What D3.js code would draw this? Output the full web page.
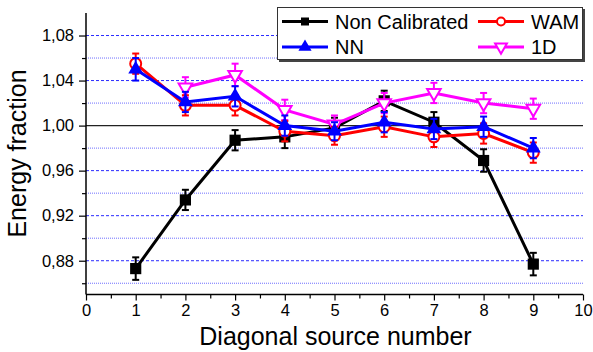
<!DOCTYPE html>
<html>
<head>
<meta charset="utf-8">
<script src="https://cdn.jsdelivr.net/npm/d3@7"></script>
<style>
  html, body { margin: 0; padding: 0; background: #fff; }
  svg { display: block; font-family: "Liberation Sans", Arial, sans-serif; }
</style>
</head>
<body>
<svg id="chart" width="593" height="352"></svg>
<script>
// Diagonal source numbers and energy fraction per calibration method
const sources = [1, 2, 3, 4, 5, 6, 7, 8, 9];
const nonCalibrated = [0.873, 0.934, 0.987, 0.990, 0.998, 1.022, 1.003, 0.969, 0.877];
const nonCalibratedErr = [0.010, 0.009, 0.009, 0.010, 0.009, 0.009, 0.009, 0.010, 0.010];
const wam = [1.055, 1.018, 1.018, 0.995, 0.991, 0.999, 0.990, 0.993, 0.976];
const wamErr = [0.009, 0.009, 0.009, 0.009, 0.008, 0.009, 0.009, 0.009, 0.009];
const nn = [1.050, 1.021, 1.026, 1.000, 0.995, 1.003, 0.997, 0.999, 0.980];
const nnErr = [0.010, 0.009, 0.009, 0.009, 0.008, 0.009, 0.009, 0.009, 0.009];
// 1D calibration has no value for source 1
const oneD = [null, 1.034, 1.045, 1.014, 1.001, 1.020, 1.029, 1.020, 1.015];
const oneDErr = [null, 0.009, 0.010, 0.009, 0.008, 0.009, 0.009, 0.009, 0.009];

const xTicks = [0, 1, 2, 3, 4, 5, 6, 7, 8, 9, 10];
const yTicks = [0.88, 0.92, 0.96, 1.00, 1.04, 1.08];
const yMinor = [0.86, 0.90, 0.94, 0.98, 1.02, 1.06];

const svg = d3.select("#chart");
const plotLeft = 86, plotRight = 583, plotTop = 13, plotBottom = 294.5;

const x = d3.scaleLinear().domain([0, 10]).range([plotLeft, plotRight]);
const y = d3.scaleLinear().domain([0.85, 1.10]).range([plotBottom, plotTop]);
const fmt = v => d3.format(".2f")(v).replace(".", ",");

// Horizontal grid lines
const grid = svg.append("g");
grid.selectAll("line.minor").data(yMinor).join("line")
  .attr("x1", plotLeft).attr("x2", plotRight)
  .attr("y1", d => y(d)).attr("y2", d => y(d))
  .attr("stroke", "#6f6fff").attr("stroke-width", 1)
  .attr("stroke-dasharray", "1,1");
grid.selectAll("line.major").data(yTicks.filter(d => d !== 1.00)).join("line")
  .attr("x1", plotLeft).attr("x2", plotRight)
  .attr("y1", d => y(d)).attr("y2", d => y(d))
  .attr("stroke", "#2a2aff").attr("stroke-width", 1)
  .attr("stroke-dasharray", "3,2");
grid.append("line")
  .attr("x1", plotLeft).attr("x2", plotRight)
  .attr("y1", y(1.00)).attr("y2", y(1.00))
  .attr("stroke", "#222").attr("stroke-width", 1.2);

// Axes
const yAxis = svg.append("g").attr("transform", `translate(${plotLeft},0)`)
  .call(d3.axisLeft(y).tickValues(yTicks).tickFormat(fmt).tickSize(7).tickPadding(5));
svg.append("g").attr("transform", `translate(${plotLeft},0)`)
  .call(d3.axisLeft(y).tickValues(yMinor).tickFormat("").tickSize(4))
  .select(".domain").remove();
const xAxis = svg.append("g").attr("transform", `translate(0,${plotBottom})`)
  .call(d3.axisBottom(x).tickValues(xTicks).tickFormat(d3.format("d")).tickSize(6).tickPadding(4));
svg.append("g").attr("transform", `translate(0,${plotBottom})`)
  .call(d3.axisBottom(x).tickValues(d3.range(0.5, 10, 1)).tickFormat("").tickSize(4))
  .select(".domain").remove();

svg.selectAll(".domain").attr("stroke", "#000").attr("stroke-width", 1.5);
svg.selectAll(".tick line").attr("stroke", "#000").attr("stroke-width", 1.2);
svg.selectAll(".tick text").attr("font-size", 16.5).attr("fill", "#000")
  .attr("font-family", "'Liberation Sans', Arial, sans-serif");
yAxis.select(".domain").attr("d", `M-0,${plotBottom}V${plotTop}`);
xAxis.select(".domain").attr("d", `M${plotLeft},0H${plotRight}`);

// Axis titles
svg.append("text")
  .attr("x", (plotLeft + plotRight) / 2 + 1).attr("y", 345)
  .attr("text-anchor", "middle").attr("font-size", 25).attr("fill", "#000")
  .text("Diagonal source number");
svg.append("text")
  .attr("transform", "translate(26,153.5) rotate(-90)")
  .attr("text-anchor", "middle").attr("font-size", 25).attr("fill", "#000")
  .text("Energy fraction");

// Marker shapes
const symSquare = d3.symbol().type(d3.symbolSquare);
const symCircle = d3.symbol().type(d3.symbolCircle);
const symTri = d3.symbol().type(d3.symbolTriangle);

function drawSeries(values, errs, color, marker) {
  const pts = sources.map((s, i) => ({ s, v: values[i], e: errs[i] })).filter(d => d.v !== null);
  const g = svg.append("g");
  g.append("path").datum(pts)
    .attr("fill", "none").attr("stroke", color).attr("stroke-width", 3)
    .attr("d", d3.line().x(d => x(d.s)).y(d => y(d.v)));
  const eb = g.selectAll("g.err").data(pts).join("g");
  eb.append("line")
    .attr("x1", d => x(d.s)).attr("x2", d => x(d.s))
    .attr("y1", d => y(d.v - d.e)).attr("y2", d => y(d.v + d.e))
    .attr("stroke", color).attr("stroke-width", 2);
  [-1, 1].forEach(sg => {
    eb.append("line")
      .attr("x1", d => x(d.s) - 3.5).attr("x2", d => x(d.s) + 3.5)
      .attr("y1", d => y(d.v + sg * d.e)).attr("y2", d => y(d.v + sg * d.e))
      .attr("stroke", color).attr("stroke-width", 2);
  });
  marker(g.selectAll("path.m").data(pts).join("path")
    .attr("transform", d => `translate(${x(d.s)},${y(d.v)})`));
}

drawSeries(nonCalibrated, nonCalibratedErr, "#000", m =>
  m.attr("d", symSquare.size(125)).attr("fill", "#000"));
drawSeries(oneD, oneDErr, "#ff00ff", m =>
  m.attr("d", symTri.size(80)).attr("fill", "#fff").attr("stroke", "#ff00ff").attr("stroke-width", 2)
   .attr("transform", d => `translate(${x(d.s)},${y(d.v)}) rotate(180)`));
drawSeries(wam, wamErr, "#ff0000", m =>
  m.attr("d", symCircle.size(95)).attr("fill", "#fff").attr("stroke", "#ff0000").attr("stroke-width", 2));
drawSeries(nn, nnErr, "#0000ff", m =>
  m.attr("d", symTri.size(95)).attr("fill", "#0000ff"));

// Legend
const lg = svg.append("g");
lg.append("rect").attr("x", 279).attr("y", 9).attr("width", 306).attr("height", 53).attr("fill", "#444");
lg.append("rect").attr("x", 277.5).attr("y", 7.5).attr("width", 305).attr("height", 52)
  .attr("fill", "#fff").attr("stroke", "#333").attr("stroke-width", 1);

const legendItems = [
  { name: "Non Calibrated", color: "#000", col: 0, row: 0, kind: "square" },
  { name: "WAM", color: "#ff0000", col: 1, row: 0, kind: "circle" },
  { name: "NN", color: "#0000ff", col: 0, row: 1, kind: "tri" },
  { name: "1D", color: "#ff00ff", col: 1, row: 1, kind: "down" }
];
const colX = [282, 478];
const rowY = [21.5, 47];
legendItems.forEach(it => {
  const x0 = colX[it.col], yy = rowY[it.row];
  lg.append("line").attr("x1", x0).attr("x2", x0 + 46).attr("y1", yy).attr("y2", yy)
    .attr("stroke", it.color).attr("stroke-width", 3);
  const cx = x0 + 23;
  const m = lg.append("path").attr("transform", `translate(${cx},${yy})`);
  if (it.kind === "square") m.attr("d", symSquare.size(64)).attr("fill", it.color);
  if (it.kind === "circle") m.attr("d", symCircle.size(50)).attr("fill", "#fff").attr("stroke", it.color).attr("stroke-width", 2);
  if (it.kind === "tri") m.attr("d", symTri.size(75)).attr("fill", it.color);
  if (it.kind === "down") m.attr("d", symTri.size(60)).attr("fill", "#fff").attr("stroke", it.color).attr("stroke-width", 2)
    .attr("transform", `translate(${cx},${yy}) rotate(180)`);
  lg.append("text").attr("x", x0 + 53).attr("y", yy + 7).attr("font-size", 20).attr("fill", "#000")
    .text(it.name);
});
</script>
</body>
</html>
